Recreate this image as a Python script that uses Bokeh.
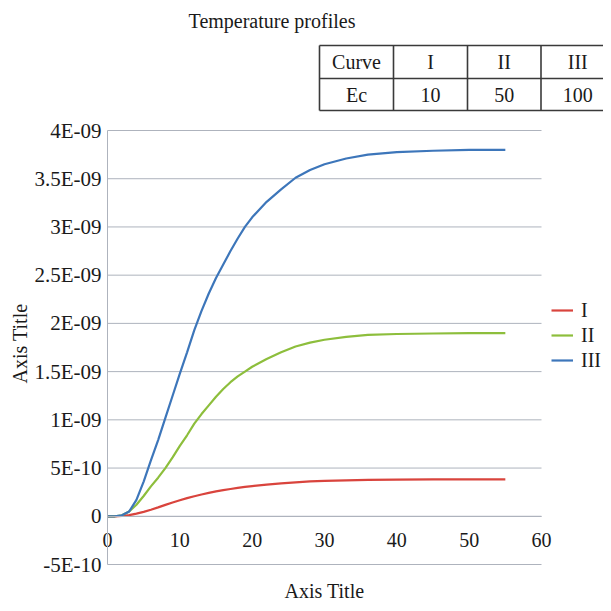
import math
from bokeh.plotting import figure
from bokeh.models import (Range1d, FixedTicker, CustomJSTickFormatter,
                          Legend, LegendItem, ColumnDataSource)
from bokeh.embed import file_html
from bokeh.resources import INLINE
from bokeh.core.properties import value

FONT = "Liberation Serif"
TXT = "#1a1a1a"
GRID = "#AEB3BD"

# ---------------- data ----------------
chart_title = "Temperature profiles"
table_header = ["Curve", "I", "II", "III"]
table_row = ["Ec", "10", "50", "100"]

series_names = ["I", "II", "III"]
series_colors = ["#D9443D", "#8DBE3C", "#3D76BA"]

x_vals = [0, 1, 2, 3, 4, 5, 6, 7, 8, 9, 10, 11, 12, 13, 14, 15, 16, 17, 18, 19, 20,
          22, 24, 26, 28, 30, 33, 36, 40, 45, 50, 55]

UNIT = 1e-9  # values below are in units of 1E-09
curve_I = [0, 0, 0.003, 0.012, 0.027, 0.046, 0.068, 0.092, 0.118, 0.143, 0.166, 0.188,
           0.208, 0.226, 0.243, 0.258, 0.271, 0.283, 0.294, 0.304, 0.313,
           0.328, 0.341, 0.352, 0.361, 0.367, 0.373, 0.377, 0.380, 0.382, 0.383, 0.383]
curve_II = [0, 0, 0.01, 0.05, 0.12, 0.21, 0.31, 0.40, 0.50, 0.61, 0.73, 0.84,
            0.96, 1.06, 1.15, 1.24, 1.32, 1.39, 1.45, 1.50, 1.55,
            1.63, 1.70, 1.76, 1.80, 1.83, 1.86, 1.88, 1.89, 1.895, 1.90, 1.90]
curve_III = [0, 0, 0.01, 0.05, 0.17, 0.36, 0.58, 0.79, 1.02, 1.25, 1.48, 1.70,
             1.93, 2.13, 2.31, 2.47, 2.61, 2.75, 2.88, 3.00, 3.10,
             3.26, 3.39, 3.51, 3.59, 3.65, 3.71, 3.75, 3.775, 3.79, 3.80, 3.80]

x_ticks = [0, 10, 20, 30, 40, 50, 60]
y_ticks = [-5e-10, 0, 5e-10, 1e-9, 1.5e-9, 2e-9, 2.5e-9, 3e-9, 3.5e-9, 4e-9]
y_tick_labels = ["-5E-10", "0", "5E-10", "1E-09", "1.5E-09", "2E-09", "2.5E-09",
                 "3E-09", "3.5E-09", "4E-09"]
x_title = "Axis Title"
y_title = "Axis Title"

# ---------------- geometry (canvas pixels; the frame is the whole canvas) ----------------
W, H = 603, 603
BOX_L, BOX_R, BOX_T, BOX_B = 107, 541, 130, 564   # pixel box of x 0..60, y -5E-10..4E-09
TEXT_DY = 7                                        # baseline correction for svg text
x0, x1 = x_ticks[0], x_ticks[-1]
y0, y1 = y_ticks[0], y_ticks[-1]
kx = (x1 - x0) / (BOX_R - BOX_L)
ky = (y1 - y0) / (BOX_B - BOX_T)


def cx(px):   # canvas x pixel -> data x
    return x0 + (px - BOX_L) * kx


def cy(py):   # canvas y pixel (from top) -> data y
    return y0 + (BOX_B - py) * ky


p = figure(width=W, height=H, x_range=Range1d(cx(0), cx(W)), y_range=Range1d(cy(H), cy(0)),
           toolbar_location=None, output_backend="svg", title=None, min_border=0)
p.outline_line_color = None
p.background_fill_color = "white"
p.xgrid.visible = False
p.ygrid.visible = False

# horizontal gridlines limited to the plotting box
p.segment(x0=[x0] * len(y_ticks), x1=[x1] * len(y_ticks), y0=y_ticks, y1=y_ticks,
          line_color=GRID, line_width=1)

renderers = []
for name, color, vals in zip(series_names, series_colors, [curve_I, curve_II, curve_III]):
    src = ColumnDataSource(dict(x=x_vals, y=[v * UNIT for v in vals]))
    r = p.line("x", "y", source=src, line_color=color, line_width=2.2)
    renderers.append(r)

# ---------------- title + table ----------------
p.text(x=[cx(271.5)], y=[cy(27 - TEXT_DY)], text=[chart_title], text_font=value(FONT),
       text_font_size="20px", text_color=TXT, text_align="center",
       text_baseline="alphabetic")
col_edges = [319, 393, 467, 540.5, 614]
row_edges = [45, 78, 110]
p.segment(x0=[cx(col_edges[0])] * 3, x1=[cx(col_edges[-1])] * 3,
          y0=[cy(v) for v in row_edges], y1=[cy(v) for v in row_edges],
          line_color="#3a3a3a", line_width=1.6)
p.segment(x0=[cx(v) for v in col_edges], x1=[cx(v) for v in col_edges],
          y0=[cy(row_edges[0])] * len(col_edges), y1=[cy(row_edges[-1])] * len(col_edges),
          line_color="#3a3a3a", line_width=1.6)
centers = [cx((col_edges[i] + col_edges[i + 1]) / 2) for i in range(4)]
for base, cells in zip([68, 101], [table_header, table_row]):
    p.text(x=centers, y=[cy(base - TEXT_DY)] * 4, text=cells, text_font=value(FONT),
           text_font_size="20px", text_color=TXT, text_align="center",
           text_baseline="alphabetic")

# axis titles
p.text(x=[(x0 + x1) / 2], y=[cy(597 - TEXT_DY)], text=[x_title], text_font=value(FONT),
       text_font_size="20px", text_color=TXT, text_align="center",
       text_baseline="alphabetic")
p.text(x=[cx(19)], y=[cy(343)], text=[y_title], text_font=value(FONT),
       text_font_size="20px", text_color=TXT, text_align="center",
       text_baseline="middle", angle=math.pi / 2)

# ---------------- axes (crossing at the origin, Excel style) ----------------
xa = p.xaxis[0]
xa.fixed_location = 0
xa.bounds = (x0, x1)
xa.ticker = FixedTicker(ticks=x_ticks)
xa.axis_line_color = GRID
xa.major_tick_out = 0
xa.major_tick_in = 0
xa.minor_tick_line_color = None
xa.major_label_text_font = FONT
xa.major_label_text_font_size = "20px"
xa.major_label_text_color = TXT
xa.major_label_standoff = 17

ya = p.yaxis[0]
ya.fixed_location = 0
ya.bounds = (y0, y1)
ya.ticker = FixedTicker(ticks=y_ticks)
ya.formatter = CustomJSTickFormatter(args=dict(tvals=y_ticks, tlabels=y_tick_labels), code="""
let best = -1, bd = Infinity;
for (let i = 0; i < tvals.length; i++) {
  const d = Math.abs(tvals[i] - tick);
  if (d < bd) { bd = d; best = i; }
}
return (best >= 0 && bd < 1e-13) ? tlabels[best] : "";
""")
ya.axis_line_color = GRID
ya.major_tick_out = 0
ya.major_tick_in = 0
ya.minor_tick_line_color = None
ya.major_label_text_font = FONT
ya.major_label_text_font_size = "21px"
ya.major_label_text_color = TXT
ya.major_label_standoff = 6

legend = Legend(items=[LegendItem(label=n, renderers=[r]) for n, r in zip(series_names, renderers)],
                location=(551, 231), padding=0, margin=0, spacing=1,
                glyph_width=22, glyph_height=24, label_height=24, label_standoff=8,
                label_text_font=FONT, label_text_font_size="20px", label_text_color=TXT,
                border_line_color=None, background_fill_alpha=0)
p.add_layout(legend, "center")

open("out.html", "w").write(file_html(p, INLINE))
